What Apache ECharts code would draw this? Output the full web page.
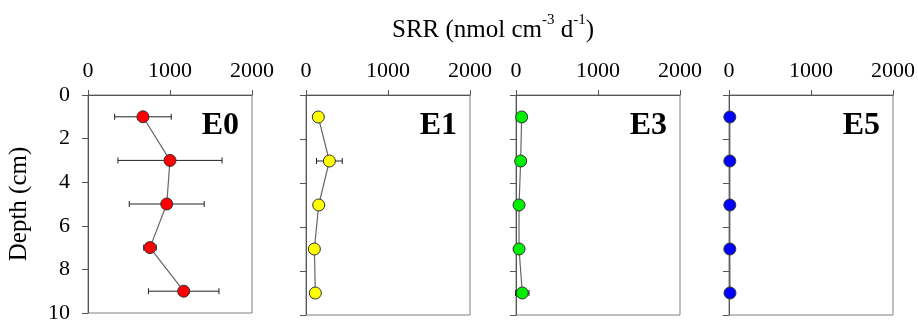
<!DOCTYPE html>
<html>
<head>
<meta charset="utf-8">
<script src="https://cdn.jsdelivr.net/npm/echarts@6/dist/echarts.min.js"></script>
<style>
  html, body { margin: 0; padding: 0; background: #fff; }
  #chart { width: 918px; height: 324px; }
</style>
</head>
<body>
<div id="chart"></div>
<script>
// depth of each sample (cm)
const depths = [1, 3, 5, 7, 9]
const panelNames = ['E0', 'E1', 'E3', 'E5']
const colors = ['#ff0000', '#ffff00', '#00ee00', '#0000ff']

// SRR mean and error (nmol cm-3 d-1)
const e0 = [670, 1000, 960, 756, 1167]
const e0Err = [345, 635, 457, 77, 430]
const e1 = [150, 285, 155, 102, 114]
const e1Err = [30, 157, 30, 20, 20]
const e3 = [69, 57, 37, 37, 77]
const e3Err = [20, 20, 20, 20, 82]
const e5 = [10, 10, 10, 10, 12]
const e5Err = [5, 5, 5, 5, 5]

const xTicks = [0, 1000, 2000]
const yTicks = [0, 2, 4, 6, 8, 10]

const values = [e0, e1, e3, e5]
const errors = [e0Err, e1Err, e3Err, e5Err]

// layout of the four panels
const lefts = [88, 306, 516, 729]
const gw = 164, gtop = 95, gh = 220
const serif = '"Liberation Serif", "Times New Roman", serif'
const axisColor = '#555'

const grids = [], xAxes = [], yAxes = [], series = [], graphics = []

lefts.forEach((left, i) => {
  grids.push({
    left, top: gtop, width: gw, height: gh,
    show: true, borderColor: '#808080', borderWidth: 1
  })
  xAxes.push({
    gridIndex: i, type: 'value', position: 'top',
    min: xTicks[0], max: xTicks[xTicks.length - 1], interval: 1000,
    axisLine: { show: true, lineStyle: { color: axisColor } },
    axisTick: { show: true, inside: false, length: 5, lineStyle: { color: axisColor } },
    axisLabel: { fontFamily: serif, fontSize: 22, color: '#000', margin: 13, formatter: v => String(v) },
    splitLine: { show: false }
  })
  yAxes.push({
    gridIndex: i, type: 'value', inverse: true,
    min: yTicks[0], max: yTicks[yTicks.length - 1], interval: 2,
    name: i === 0 ? 'Depth (cm)' : '',
    nameLocation: 'middle', nameRotate: 90, nameGap: 56,
    nameTextStyle: { fontFamily: serif, fontSize: 25, color: '#000' },
    axisLine: { show: true, lineStyle: { color: axisColor } },
    axisTick: { show: true, inside: false, length: 6, lineStyle: { color: axisColor } },
    axisLabel: { show: i === 0, fontFamily: serif, fontSize: 22, color: '#000', margin: 18 },
    splitLine: { show: false }
  })

  // error bars
  series.push({
    type: 'custom',
    xAxisIndex: i, yAxisIndex: i,
    z: 1,
    data: depths.map((d, k) => [values[i][k] - errors[i][k], values[i][k] + errors[i][k], d]),
    renderItem: (params, api) => {
      const lo = api.coord([api.value(0), api.value(2)])
      const hi = api.coord([api.value(1), api.value(2)])
      const c = 3
      const style = { stroke: '#222', lineWidth: 1 }
      return {
        type: 'group',
        children: [
          { type: 'line', shape: { x1: lo[0], y1: lo[1], x2: hi[0], y2: hi[1] }, style },
          { type: 'line', shape: { x1: lo[0], y1: lo[1] - c, x2: lo[0], y2: lo[1] + c }, style },
          { type: 'line', shape: { x1: hi[0], y1: hi[1] - c, x2: hi[0], y2: hi[1] + c }, style }
        ]
      }
    }
  })

  // profile line + markers
  series.push({
    type: 'line',
    xAxisIndex: i, yAxisIndex: i,
    z: 3,
    data: depths.map((d, k) => [values[i][k], d]),
    symbol: 'circle', symbolSize: 12,
    lineStyle: { color: '#666', width: 1.2 },
    itemStyle: { color: colors[i], borderColor: '#333', borderWidth: 1 }
  })

  // panel name in the top right corner
  graphics.push({
    type: 'text', right: 918 - (left + gw) + 13, top: 110,
    style: { text: panelNames[i], fontFamily: serif, fontSize: 32, fontWeight: 'bold', fill: '#000' }
  })
})

const chart = echarts.init(document.getElementById('chart'))
chart.setOption({
  backgroundColor: '#fff',
  animation: false,
  title: {
    text: '{m|SRR (nmol cm}{s|-3}{m| d}{s|-1}{m|)}',
    left: 387, top: 8,
    textStyle: {
      fontWeight: 'normal',
      rich: {
        m: { fontFamily: serif, fontSize: 25, fontWeight: 'normal', color: '#000', lineHeight: 30, verticalAlign: 'bottom' },
        s: { fontFamily: serif, fontSize: 15, fontWeight: 'normal', color: '#000', lineHeight: 30, verticalAlign: 'top' }
      }
    }
  },
  grid: grids,
  xAxis: xAxes,
  yAxis: yAxes,
  series,
  graphic: graphics
})
</script>
</body>
</html>
